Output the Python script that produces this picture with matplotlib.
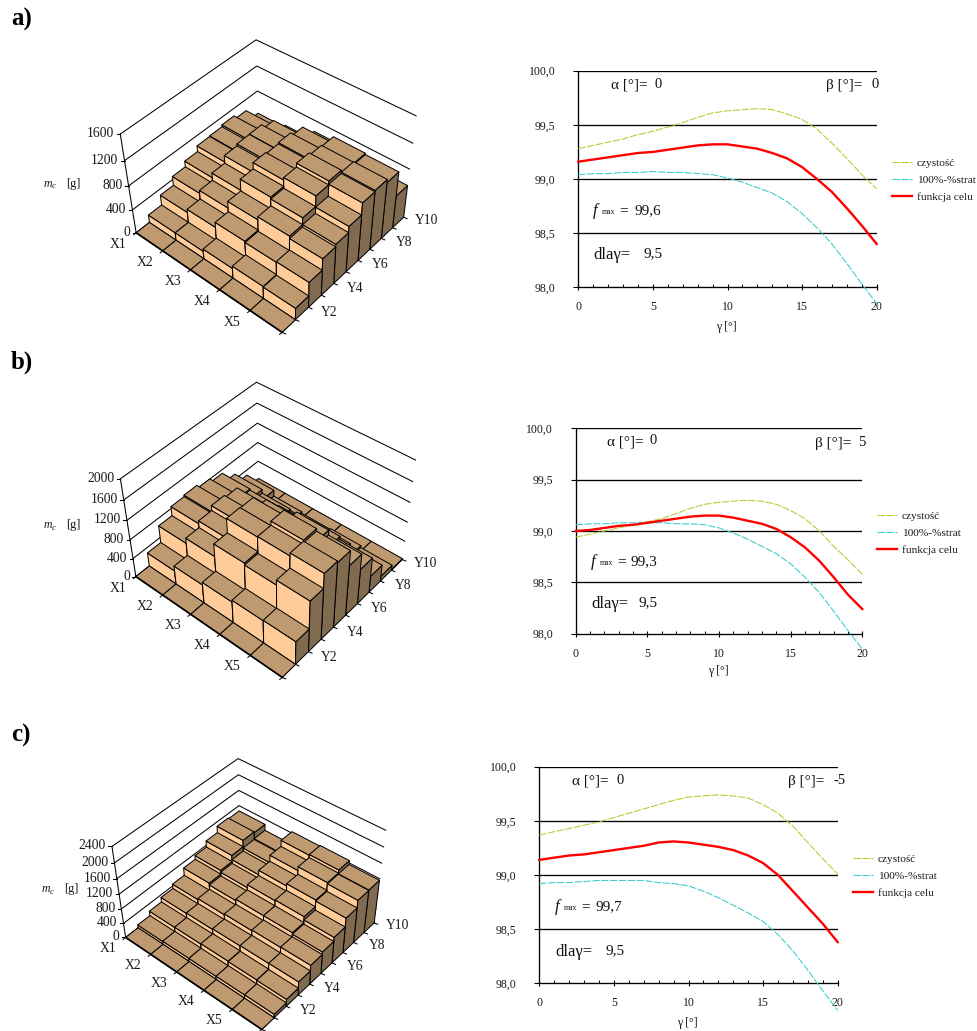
import numpy as np
import matplotlib
matplotlib.use("Agg")
import matplotlib.pyplot as plt
from matplotlib.collections import PolyCollection

plt.rcParams['font.family'] = ['Liberation Serif', 'DejaVu Serif']

W, H = 978, 1031

# ---------- data ----------
x_labels = ["X1", "X2", "X3", "X4", "X5"]
y_labels = ["Y2", "Y4", "Y6", "Y8", "Y10"]

mass_a = [
    [0, 130, 300, 450, 545, 640, 650, 680, 620, 430],
    [0, 130, 355, 500, 620, 745, 775, 780, 700, 470],
    [0, 170, 440, 610, 800, 900, 880, 900, 840, 620],
    [0, 210, 420, 660, 770, 940, 1000, 960, 940, 575],
    [0, 200, 430, 620, 660, 760, 950, 970, 920, 535],
]
mass_b = [
    [0, 290, 650, 840, 870, 805, 725, 510, 290, 20],
    [0, 395, 760, 900, 1000, 950, 700, 430, 160, 20],
    [0, 450, 1020, 1310, 1300, 1050, 720, 400, 130, 20],
    [0, 490, 980, 1320, 1400, 1150, 800, 420, 150, 20],
    [0, 500, 1080, 1380, 1350, 1050, 735, 350, 110, 20],
]
mass_c = [
    [0, 80, 205, 330, 450, 650, 750, 915, 1085, 1060],
    [0, 90, 210, 340, 480, 600, 700, 800, 880, 900],
    [0, 90, 220, 360, 500, 640, 780, 920, 1080, 1240],
    [0, 95, 210, 370, 520, 640, 800, 980, 1180, 1260],
    [0, 100, 200, 375, 530, 600, 710, 950, 1150, 1160],
]
z_max_a, z_max_b, z_max_c = 1600, 2000, 2400

gamma = list(range(21))
purity_a = [99.28, 99.31, 99.34, 99.37, 99.41, 99.44, 99.48, 99.52, 99.57, 99.61, 99.63, 99.64, 99.65, 99.64, 99.60, 99.55, 99.46, 99.33, 99.19, 99.04, 98.91]
loss_a = [99.04, 99.05, 99.05, 99.06, 99.06, 99.07, 99.06, 99.06, 99.05, 99.04, 99.01, 98.97, 98.92, 98.87, 98.79, 98.68, 98.55, 98.40, 98.22, 98.03, 97.85]
goal_a = [99.16, 99.18, 99.20, 99.22, 99.24, 99.25, 99.27, 99.29, 99.31, 99.32, 99.32, 99.30, 99.28, 99.24, 99.19, 99.11, 99.00, 98.88, 98.73, 98.57, 98.40]
purity_b = [98.94, 98.97, 99.00, 99.03, 99.06, 99.09, 99.12, 99.17, 99.22, 99.26, 99.28, 99.29, 99.30, 99.29, 99.26, 99.20, 99.12, 99.00, 98.85, 98.72, 98.58]
loss_b = [99.06, 99.07, 99.07, 99.08, 99.08, 99.08, 99.08, 99.07, 99.07, 99.06, 99.03, 98.98, 98.92, 98.85, 98.78, 98.68, 98.55, 98.40, 98.22, 98.03, 97.85]
goal_b = [99.00, 99.01, 99.03, 99.05, 99.06, 99.08, 99.10, 99.12, 99.14, 99.15, 99.15, 99.13, 99.10, 99.07, 99.02, 98.94, 98.84, 98.71, 98.55, 98.38, 98.24]
purity_c = [99.37, 99.40, 99.43, 99.46, 99.49, 99.53, 99.57, 99.61, 99.65, 99.69, 99.72, 99.73, 99.74, 99.73, 99.71, 99.65, 99.57, 99.45, 99.30, 99.15, 99.01]
loss_c = [98.92, 98.93, 98.93, 98.94, 98.95, 98.95, 98.95, 98.95, 98.93, 98.92, 98.90, 98.85, 98.79, 98.72, 98.65, 98.57, 98.45, 98.30, 98.12, 97.93, 97.75]
goal_c = [99.14, 99.16, 99.18, 99.19, 99.21, 99.23, 99.25, 99.27, 99.30, 99.31, 99.30, 99.28, 99.26, 99.23, 99.18, 99.11, 99.00, 98.85, 98.70, 98.55, 98.38]

series_names = ["czystość", "100%-%strat", "funkcja celu"]
val_ticks = [98.0, 98.5, 99.0, 99.5, 100.0]

# ---------- layout ----------
# world corners (x, y, z/zmax): floor left, front, right, back, then tops left, back, right
world = [(0, 0, 0), (5, 0, 0), (5, 10, 0), (0, 10, 0), (0, 0, 1), (0, 10, 1), (5, 10, 1)]
cam_a = [(136.7, 231.7), (281.7, 333.3), (405, 215), (257.3, 140), (120, 134.3), (257.3, 38.3), (415, 117.3)]
cam_b = [(136.7, 576.7), (281.7, 677.7), (403.3, 558.3), (257.3, 480), (120, 478.3), (257.3, 381.7), (415, 461)]
cam_c = [(126, 936.7), (261.7, 1030), (375, 921.7), (239, 850), (111.7, 846.7), (239, 757.7), (385, 831)]

TOP, LIGHT, DARK = "#BF9A70", "#FFCC99", "#806A50"
INK = "#1A1A1A"


def make_camera(points):
    A, b = [], []
    for (X, Y, Z), (u, v) in zip(world, points):
        A.append([X, Y, Z, 1, 0, 0, 0, 0, -u * X, -u * Y, -u * Z]); b.append(u)
        A.append([0, 0, 0, 0, X, Y, Z, 1, -v * X, -v * Y, -v * Z]); b.append(v)
    p = np.linalg.lstsq(np.array(A, float), np.array(b, float), rcond=None)[0]
    P = np.append(p, 1).reshape(3, 4)

    def project(x, y, z):
        q = P @ np.array([x, y, z, 1.0])
        return q[0] / q[2], q[1] / q[2]
    return project


fig = plt.figure(figsize=(W / 100, H / 100), dpi=100, facecolor="white")
page = fig.add_axes([0, 0, 1, 1])
page.set_xlim(0, W)
page.set_ylim(H, 0)
page.axis("off")


def draw_surface(mass, z_max, z_step, cam, label_xy):
    pr = make_camera(cam)
    nz = z_max / z_step
    # walls
    for k in range(int(nz) + 1):
        z = k / nz
        pts = [pr(0, 0, z), pr(0, 10, z), pr(5, 10, z)]
        page.plot(*zip(*pts), color="black", lw=0.75, solid_joinstyle="miter", zorder=1)
        tick = pr(0, 0, z)
        page.plot([tick[0] - 3.5, tick[0]], [tick[1], tick[1]], color="black", lw=0.75, zorder=1)
        page.text(tick[0] - 6, tick[1] - 0.5, f"{int(k * z_step)}", ha="right", va="center", fontsize=9.8, color=INK)
    page.plot(*zip(pr(0, 0, 0), pr(0, 0, 1)), color="black", lw=0.75, zorder=1)
    # bars, far to near
    polys, colors = [], []
    for j in range(9, -1, -1):
        for i in range(5):
            z = mass[i][j] / z_max
            polys.append([pr(i, j, 0), pr(i + 1, j, 0), pr(i + 1, j, z), pr(i, j, z)]); colors.append(LIGHT)
            polys.append([pr(i + 1, j, 0), pr(i + 1, j + 1, 0), pr(i + 1, j + 1, z), pr(i + 1, j, z)]); colors.append(DARK)
            polys.append([pr(i, j, z), pr(i + 1, j, z), pr(i + 1, j + 1, z), pr(i, j + 1, z)]); colors.append(TOP)
    page.add_collection(PolyCollection(polys, facecolors=colors, edgecolors="black", linewidths=0.72, zorder=2))
    # axis ticks and labels
    page.plot(*zip(pr(0, 0, 0), pr(5, 0, 0)), color="black", lw=1.2, zorder=3)
    for i in range(6):
        u, v = pr(i, 0, 0)
        page.plot([u - 2.5, u], [v + 2, v], color="black", lw=0.75, zorder=3)
    for i, name in enumerate(x_labels):
        u, v = pr(i, 0, 0)
        page.text(u - 18, v + 11.5, name, ha="center", va="center", fontsize=9.8, color=INK)
    for j in range(11):
        u, v = pr(5, j, 0)
        page.plot([u, u + 3.5], [v, v + 1.5], color="black", lw=0.75, zorder=3)
    for k, name in enumerate(y_labels):
        u, v = pr(5, 2 * k + 1, 0)
        page.text(u + 34, v - 7, name, ha="center", va="center", fontsize=9.8, color=INK)
    lx, ly = label_xy
    page.text(lx, ly, "m", ha="left", va="center", fontsize=8.5, style="italic", color=INK)
    page.text(lx + 8, ly + 2.5, "c", ha="left", va="center", fontsize=6.5, style="italic", color=INK)
    page.text(lx + 22, ly, "[g]", ha="left", va="center", fontsize=8.8, color=INK)


def px(x, y):
    return x / W, 1 - y / H


def draw_curves(box, purity, loss, goal, legend_xy, notes):
    x0, x1, ytop, ybot = box
    ax = fig.add_axes([x0 / W, 1 - ybot / H, (x1 - x0) / W, (ybot - ytop) / H])
    ax.patch.set_alpha(0)
    for v in val_ticks[1:]:
        ax.axhline(v, color="black", lw=0.95, zorder=1)
    ax.plot(gamma, purity, color="#B3CC2A", lw=0.75, dashes=(7, 1.5), clip_on=False, label=series_names[0], zorder=3)
    ax.plot(gamma, loss, color="#38CCCC", lw=0.75, dashes=(7, 1.5), clip_on=False, label=series_names[1], zorder=3)
    ax.plot(gamma, goal, color="#FF0000", lw=1.7, clip_on=False, label=series_names[2], zorder=4)
    ax.set_xlim(0, 20)
    ax.set_ylim(98, 100)
    ax.set_xticks([0, 5, 10, 15, 20])
    ax.set_xticks(range(21), minor=True)
    ax.set_yticks(val_ticks)
    ax.set_yticklabels([f"{v:.1f}".replace(".", ",") for v in val_ticks], fontsize=8.5, color=INK)
    ax.set_xticklabels(["0", "5", "10", "15", "20"], fontsize=8.5, color=INK)
    ax.tick_params(axis="y", length=3.4, width=0.8, pad=13)
    ax.tick_params(axis="x", which="major", length=4, width=0.8, direction="inout", pad=8)
    ax.tick_params(axis="x", which="minor", length=2.5, width=0.7, direction="in")
    for s in ("top", "right"):
        ax.spines[s].set_visible(False)
    for s in ("left", "bottom"):
        ax.spines[s].set_linewidth(0.95)
    lg = ax.legend(loc="center left", bbox_to_anchor=px(*legend_xy), bbox_transform=fig.transFigure, frameon=False,
                   fontsize=8.2, handlelength=1.75, handletextpad=0.42, labelspacing=0.58, borderpad=0, borderaxespad=0)
    for t in lg.get_texts():
        t.set_color(INK)
    for (x, y, txt, size, style) in notes:
        fx, fy = px(x, y)
        fig.text(fx, fy, txt, ha="left", va="center", fontsize=size, style=style, color="#111111")


def notes_for(alpha_x, alpha_y, zero_x, beta_x, beta_y, beta_txt, beta_val_x, f_x, f_y, f_val, f_val_x, d_y, d_val_x, xlab_x, xlab_y):
    return [
        (alpha_x, alpha_y, "α [°]=", 11, "normal"),
        (zero_x, alpha_y - 1, "0", 10.5, "normal"),
        (beta_x, beta_y, "β [°]=", 11, "normal"),
        (beta_val_x, beta_y - 1, beta_txt, 10.5, "normal"),
        (f_x, f_y, "f", 12, "italic"),
        (f_x + 9, f_y + 1, "max", 5.5, "normal"),
        (f_x + 26, f_y, "=", 11, "normal"),
        (f_val_x, f_y, f_val, 11, "normal"),
        (f_x, d_y, "dlaγ=", 12, "normal"),
        (d_val_x, d_y - 1, "9,5", 11, "normal"),
        (xlab_x, xlab_y, "γ [°]", 8.5, "normal"),
    ]


draw_surface(mass_a, z_max_a, 400, cam_a, (44, 184))
draw_surface(mass_b, z_max_b, 400, cam_b, (44, 525))
draw_surface(mass_c, z_max_c, 400, cam_c, (42, 889))

draw_curves((578.3, 876.7, 70.7, 287.3), purity_a, loss_a, goal_a, (892, 180),
            notes_for(611, 85, 655, 826, 86, "0", 872, 593, 211, "99,6", 635, 255, 644, 716, 327))
draw_curves((575.7, 862.3, 428.3, 633.7), purity_b, loss_b, goal_b, (877, 533),
            notes_for(607, 442, 650, 815, 443, "5", 858, 591, 562, "99,3", 631, 604, 639, 708, 671))
draw_curves((539.3, 837.7, 766.7, 983.3), purity_c, loss_c, goal_c, (853, 876),
            notes_for(572, 781, 617, 788, 782, "-5", 834, 555, 907, "99,7", 596, 952, 605, 677, 1023))

for label, y in (("a)", 19), ("b)", 362), ("c)", 735)):
    fx, fy = px(11, y)
    fig.text(fx, fy, label, ha="left", va="center", fontsize=18, weight="bold", color="black")

fig.savefig("out.png", dpi=100)
